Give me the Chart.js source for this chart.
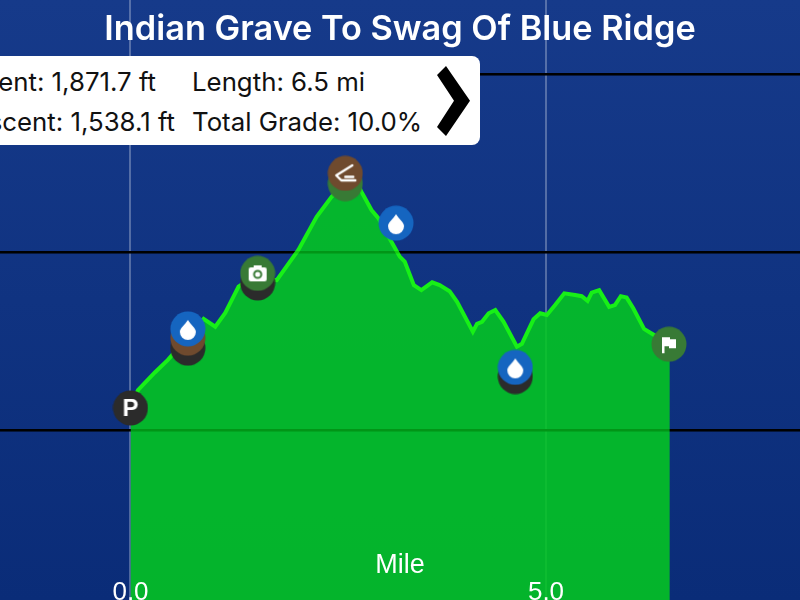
<!DOCTYPE html>
<html><head><meta charset="utf-8">
<style>
html,body{margin:0;padding:0;width:800px;height:600px;overflow:hidden;background:#0c2f7c}
#wrap{position:relative;width:800px;height:600px;overflow:hidden}
canvas{display:block}
#info{position:absolute;left:-30px;top:56px;width:510px;height:89px;background:#fff;border-radius:8px;font:400 25.8px Inter,sans-serif;color:#111}
#info span{position:absolute;white-space:nowrap;line-height:30px}
#info svg{position:absolute;left:0;top:0}
</style></head><body>
<div id="wrap"><canvas id="c" width="800" height="600"></canvas>
<div id="info">
<span style="right:324px;top:11px">Ascent: 1,871.7 ft</span>
<span style="right:305px;top:51px">Descent: 1,538.1 ft</span>
<span style="left:222px;top:11px">Length: 6.5 mi</span>
<span style="left:222px;top:51px">Total Grade: 10.0%</span>
<svg width="510" height="89"><polygon points="467,19 476,10 500,44.7 476,80 467,71 484,44.7" fill="#000"/></svg>
</div></div>
<script src="https://cdn.jsdelivr.net/npm/chart.js@4"></script>
<script>
const titleText = "Indian Grave To Swag Of Blue Ridge";
const axisLabel = "Mile";
const xTicks = [0, 5];
const yTicks = [2000, 2500, 3000];
const miles = [0,0.09,0.29,0.45,0.68,0.88,1.02,1.14,1.30,1.41,1.53,1.76,2.02,2.24,2.42,2.58,2.70,2.78,2.90,2.98,3.14,3.24,3.30,3.41,3.50,3.63,3.72,3.84,3.93,4.12,4.17,4.23,4.31,4.39,4.49,4.65,4.71,4.85,4.93,5.01,5.11,5.22,5.35,5.43,5.50,5.55,5.64,5.76,5.83,5.90,5.97,6.05,6.18,6.25,6.49];
const elevations = [2062,2112,2161,2197,2258,2312,2290,2329,2403,2420,2425,2421,2506,2599,2655,2694,2705,2669,2618,2596,2529,2487,2473,2407,2393,2415,2407,2390,2360,2276,2298,2304,2328,2337,2304,2234,2242,2311,2328,2323,2351,2384,2379,2376,2363,2386,2393,2346,2351,2376,2372,2342,2284,2274,2241];
const markerMiles = [0,0.69,0.69,0.69,1.53,1.53,2.585,2.585,3.195,4.63,4.63,6.48];
const markerElev = [2062,2230,2258,2284,2413,2440,2692,2721,2581,2150,2176,2241];
const markerKinds = ["parking","dark","brown","water","dark","camera","green","shelter","water","dark","water","flag"];

const BLUE="#1565c0",GREEN="#387a35",BROWN="#6f4a2e",DARK="#2b2b2b";
function makeIcon(color,glyph){
  const cv=document.createElement("canvas");cv.width=36;cv.height=36;
  const g=cv.getContext("2d");
  g.fillStyle=color;g.beginPath();g.arc(18,18,17.5,0,Math.PI*2);g.fill();
  g.translate(18,18);g.fillStyle="#fff";g.strokeStyle="#fff";g.lineWidth=2.4;g.lineCap="round";g.lineJoin="round";
  if(glyph)glyph(g,color);
  return cv;
}
const glyphs={
  parking:g=>{g.font="bold 24px 'Liberation Sans'";g.textAlign="center";g.textBaseline="middle";g.fillText("P",0,1);},
  water:g=>{g.beginPath();g.moveTo(0,-9);g.bezierCurveTo(3,-4,8,-1,8,3);g.arc(0,3,8,0,Math.PI);g.bezierCurveTo(-8,-1,-3,-4,0,-9);g.fill();},
  camera:(g,c)=>{g.beginPath();g.roundRect(-9,-6,18,14,2);g.fill();g.fillRect(-4,-8,8,3);g.strokeStyle=c;g.lineWidth=2;g.beginPath();g.arc(0,1,3.6,0,Math.PI*2);g.stroke();},
  shelter:g=>{g.beginPath();g.moveTo(7,-8);g.lineTo(-9,2);g.lineTo(-4,7);g.lineTo(10,7);g.moveTo(0,3.5);g.lineTo(8,3.5);g.stroke();},
  flag:g=>{g.fillRect(-7,-7,2.5,16);g.beginPath();g.moveTo(-5,-7);g.lineTo(1,-7);g.lineTo(1,-5);g.lineTo(7,-5);g.lineTo(7,4);g.lineTo(0,4);g.lineTo(0,2);g.lineTo(-5,2);g.fill();}
};
const iconFor={
  parking:makeIcon(DARK,glyphs.parking),dark:makeIcon(DARK),brown:makeIcon(BROWN),green:makeIcon(GREEN),
  water:makeIcon(BLUE,glyphs.water),camera:makeIcon(GREEN,glyphs.camera),shelter:makeIcon(BROWN,glyphs.shelter),flag:makeIcon(GREEN,glyphs.flag)
};
const ctx=document.getElementById("c").getContext("2d");
const bg=ctx.createLinearGradient(0,0,0,600);bg.addColorStop(0,"#163a8a");bg.addColorStop(1,"#0a2c78");
const bgPlugin={id:"bg",beforeDraw(ch){const c=ch.ctx;c.save();c.fillStyle=bg;c.fillRect(0,0,800,600);c.restore();}};
const zero=s=>{s.width=0;};
new Chart(ctx,{
  type:"line",
  data:{datasets:[
    {label:"Waypoints",data:markerMiles.map((x,i)=>({x,y:markerElev[i]})),showLine:false,order:0,clip:false,
     pointStyle:markerKinds.map(k=>iconFor[k]),pointRadius:18,pointHoverRadius:18},
    {label:"Elevation",data:miles.map((x,i)=>({x,y:elevations[i]})),order:1,fill:"start",tension:0,
     borderColor:"#17f017",borderWidth:4,backgroundColor:"rgba(4,201,32,.87)",pointRadius:0}
  ]},
  options:{
    responsive:false,animation:false,events:[],
    layout:{padding:0,autoPadding:false},
    plugins:{legend:{display:false},tooltip:{enabled:false},
      title:{display:true,text:titleText,color:"#fff",font:{family:"Inter",size:34.3,weight:"600",lineHeight:1.2},
        padding:{top:9,bottom:-50.16}}},
    scales:{
      x:{type:"linear",min:-1.5704,max:8.0566,afterFit:s=>{s.height=0;},
        afterBuildTicks:s=>{s.ticks=xTicks.map(value=>({value}));},
        border:{display:false},
        grid:{color:"rgba(255,255,255,.28)",lineWidth:2,drawTicks:false},
        ticks:{z:1,mirror:true,color:"#fff",padding:-8.4,maxRotation:0,autoSkip:false,font:{family:"Liberation Sans",size:26},callback:v=>v.toFixed(1)}},
      xLabel:{type:"linear",axis:"x",position:"bottom",min:-1.5704,max:8.0566,afterFit:s=>{s.height=0;},
        border:{display:false},
        grid:{display:false,z:1},
        ticks:{display:false},
        title:{display:true,text:axisLabel,color:"#fff",font:{family:"Liberation Sans",size:27},padding:{top:0,bottom:18}}},
      y:{type:"linear",min:1522.5,max:3207.9,afterFit:zero,
        afterBuildTicks:s=>{s.ticks=yTicks.map(value=>({value}));},
        border:{display:false},
        grid:{color:"#000",lineWidth:2.5,drawTicks:false},
        ticks:{display:false}},
      y2:{type:"linear",min:1522.5,max:3207.9,position:"right",afterFit:zero,
        afterBuildTicks:s=>{s.ticks=yTicks.map(value=>({value}));},
        border:{display:false},
        grid:{color:"rgba(0,0,0,.15)",lineWidth:2.5,drawTicks:false,z:1},
        ticks:{display:false}}
    }
  },
  plugins:[bgPlugin]
});
</script></body></html>
